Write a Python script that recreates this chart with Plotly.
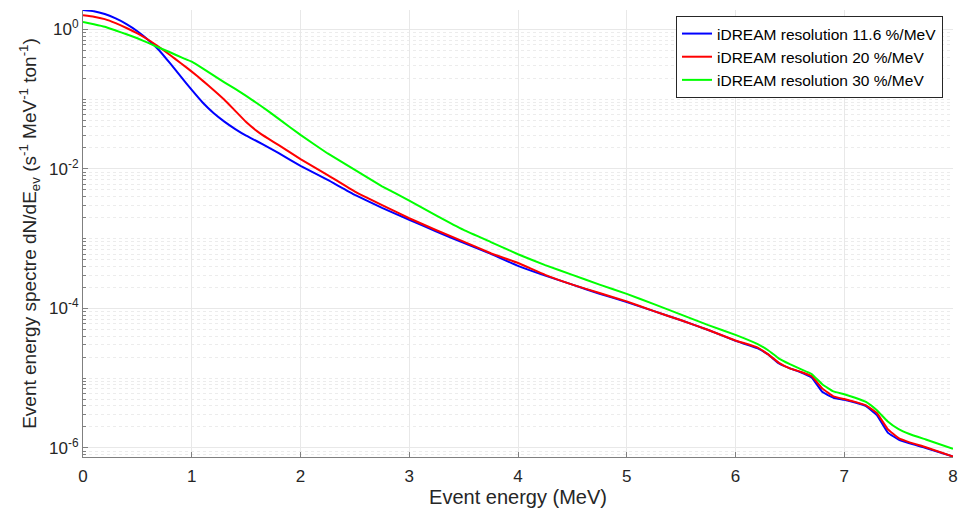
import numpy as np
import plotly.graph_objects as go

energy = [0, 0.1, 0.2, 0.3, 0.4, 0.5, 0.6, 0.7, 0.8, 0.9, 1.0, 1.1, 1.2, 1.3, 1.4, 1.5, 1.6,
          1.7, 1.8, 2.0, 2.25, 2.5, 2.75, 3.0, 3.25, 3.5, 3.75, 4.0, 4.25, 4.5, 4.75, 5.0,
          5.25, 5.5, 5.75, 6.0, 6.2, 6.3, 6.4, 6.5, 6.6, 6.7, 6.8, 6.9, 7.0, 7.1, 7.2, 7.3,
          7.4, 7.5, 7.6, 7.75, 8.0]

# log10 of the spectra
blue_log10 = [0.276, 0.258, 0.218, 0.155, 0.075, -0.028, -0.153, -0.3, -0.487, -0.679,
              -0.87, -1.05, -1.2, -1.323, -1.43, -1.525, -1.605, -1.69, -1.775, -1.958,
              -2.16, -2.374, -2.56, -2.73, -2.9, -3.06, -3.22, -3.39, -3.53, -3.66, -3.79,
              -3.91, -4.04, -4.17, -4.31, -4.465, -4.57, -4.66, -4.79, -4.86, -4.915, -4.99,
              -5.2, -5.28, -5.31, -5.35, -5.4, -5.53, -5.78, -5.88, -5.935, -6.0, -6.123]
red_log10 = [0.2, 0.18, 0.145, 0.088, 0.018, -0.06, -0.15, -0.255, -0.368, -0.487,
             -0.607, -0.736, -0.87, -1.01, -1.17, -1.33, -1.46, -1.565, -1.66, -1.862,
             -2.09, -2.327, -2.52, -2.708, -2.88, -3.043, -3.21, -3.35, -3.52, -3.66, -3.78,
             -3.9, -4.04, -4.17, -4.31, -4.46, -4.56, -4.66, -4.78, -4.86, -4.91, -4.97,
             -5.15, -5.26, -5.3, -5.34, -5.39, -5.5, -5.73, -5.86, -5.92, -5.99, -6.123]
green_log10 = [0.105, 0.073, 0.037, -0.017, -0.072, -0.129, -0.195, -0.265, -0.33, -0.4,
               -0.464, -0.56, -0.66, -0.76, -0.855, -0.955, -1.06, -1.17, -1.285, -1.514,
               -1.78, -2.016, -2.25, -2.456, -2.67, -2.875, -3.05, -3.224, -3.38, -3.52,
               -3.66, -3.792, -3.94, -4.09, -4.24, -4.38, -4.51, -4.6, -4.72, -4.8, -4.87,
               -4.94, -5.09, -5.19, -5.23, -5.28, -5.34, -5.46, -5.62, -5.73, -5.8, -5.88,
               -6.013]

series_names = ["iDREAM resolution 11.6 %/MeV", "iDREAM resolution 20 %/MeV",
                "iDREAM resolution 30 %/MeV"]
series_colors = ["#0000ff", "#ff0000", "#00ff00"]

ytick_vals = [1e-6, 1e-4, 1e-2, 1]
ytick_text = ["10<sup>-6</sup>", "10<sup>-4</sup>", "10<sup>-2</sup>", "10<sup>0</sup>"]
xtick_vals = [0, 1, 2, 3, 4, 5, 6, 7, 8]

font = "Liberation Sans, Arial, sans-serif"

fig = go.Figure()
for logs, name, col in zip([blue_log10, red_log10, green_log10], series_names, series_colors):
    fig.add_trace(go.Scatter(x=energy, y=10 ** np.array(logs), mode="lines", name=name,
                             line=dict(color=col, width=2, shape="spline", smoothing=0.3)))

fig.update_layout(
    width=960, height=514,
    margin=dict(l=83, r=7, t=10, b=57),
    paper_bgcolor="white", plot_bgcolor="white",
    font=dict(family=font, color="#262626"),
    legend=dict(x=0.9885, y=0.9866, xanchor="right", yanchor="top",
                bordercolor="#262626", borderwidth=1, bgcolor="white",
                font=dict(size=15.5, color="#000000"), tracegroupgap=0,
                itemwidth=30),
    showlegend=True,
)
fig.update_xaxes(
    range=[0, 8], tickvals=xtick_vals, ticks="inside", ticklen=5, tickcolor="#808080",
    showline=True, linecolor="#808080", linewidth=1, mirror=False, automargin=False,
    showgrid=True, gridcolor="#e8e8e8", zeroline=False, ticklabelstandoff=4,
    tickfont=dict(size=17, color="#262626"),
    title=dict(text="Event energy (MeV)", font=dict(size=20, color="#262626"), standoff=4),
)
fig.update_yaxes(
    type="log", range=[-6.13, 0.276], tickvals=ytick_vals, ticktext=ytick_text,
    ticks="inside", ticklen=5, tickcolor="#808080", automargin=False,
    showline=True, linecolor="#808080", linewidth=1,
    showgrid=True, gridcolor="#e8e8e8", zeroline=False,
    minor=dict(ticks="inside", ticklen=3, tickcolor="#808080", showgrid=True,
               gridcolor="#ececec", griddash="dot", dtick="D1"),
    tickfont=dict(size=17, color="#262626"),
    title=dict(text="Event energy spectre dN/dE<sub>ev</sub> (s<sup>-1</sup> MeV<sup>-1</sup> ton<sup>-1</sup>)",
               font=dict(size=19, color="#262626"), standoff=7),
)

fig.write_html("out.html", config={"displayModeBar": False},
               post_script="document.body.style.margin='0px';document.body.style.padding='0px';")
